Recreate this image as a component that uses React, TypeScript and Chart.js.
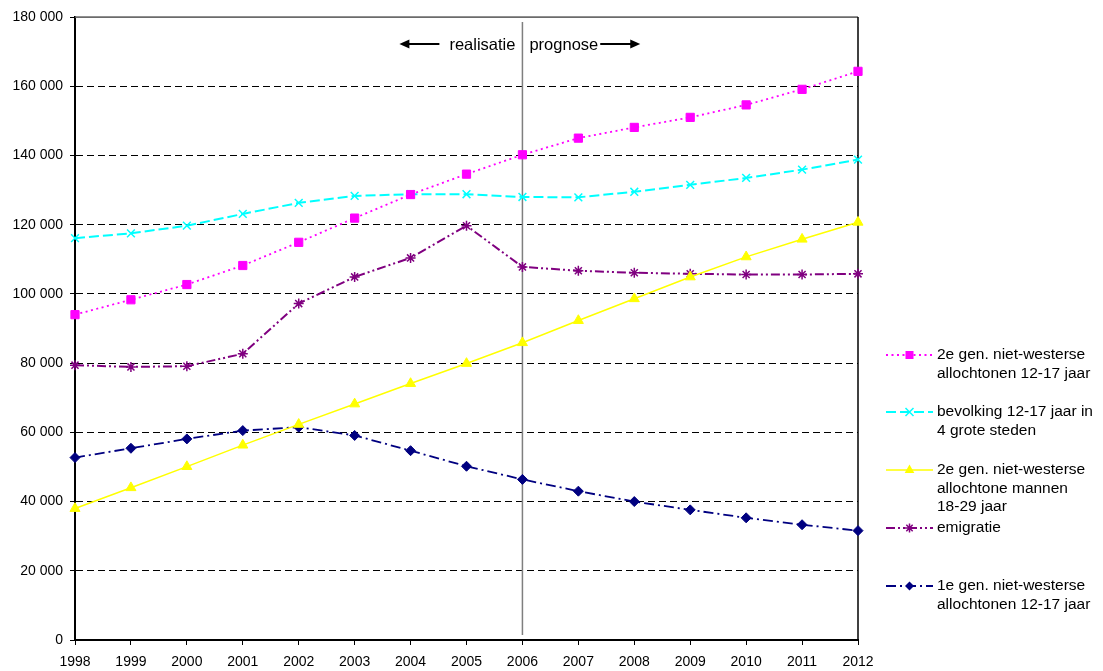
import React, { useEffect, useRef } from "react";
import { Chart, registerables } from "chart.js";

Chart.register(...registerables);

const years = ["1998", "1999", "2000", "2001", "2002", "2003", "2004", "2005", "2006", "2007", "2008", "2009", "2010", "2011", "2012"];

const tweedeGen1217 = [94000, 98300, 102700, 108200, 114900, 121900, 128700, 134600, 140200, 145000, 148100, 151000, 154600, 159100, 164300];
const bevolking1217 = [116100, 117500, 119700, 123100, 126300, 128300, 128800, 128800, 128000, 127900, 129500, 131500, 133500, 135900, 138800];
const tweedeGenMannen = [38000, 44000, 50100, 56300, 62300, 68200, 74100, 79900, 85900, 92300, 98600, 104900, 110700, 115800, 120700];
const emigratie = [79400, 78900, 79100, 82700, 97200, 104900, 110400, 119700, 107800, 106700, 106100, 105800, 105600, 105600, 105800];
const eersteGen1217 = [52700, 55400, 58100, 60500, 61500, 59100, 54700, 50200, 46400, 43000, 40000, 37600, 35300, 33300, 31600];

const seriesLabels = [
  ["2e gen. niet-westerse", "allochtonen 12-17 jaar"],
  ["bevolking 12-17 jaar in", "4 grote steden"],
  ["2e gen. niet-westerse", "allochtone mannen", "18-29 jaar"],
  ["emigratie"],
  ["1e gen. niet-westerse", "allochtonen 12-17 jaar"],
];

const yTicks = [0, 20000, 40000, 60000, 80000, 100000, 120000, 140000, 160000, 180000];
const splitYear = "2006";
const leftText = "realisatie";
const rightText = "prognose";

const FONT = "'Liberation Sans', Arial, Helvetica, sans-serif";

function fmt(v: number): string {
  return String(v).replace(/\B(?=(\d{3})+(?!\d))/g, " ");
}

function drawMarker(ctx: CanvasRenderingContext2D, style: string, x: number, y: number, color: string) {
  ctx.save();
  ctx.setLineDash([]);
  ctx.fillStyle = color;
  ctx.strokeStyle = color;
  ctx.lineWidth = 1.5;
  ctx.beginPath();
  if (style === "rect") {
    ctx.fillRect(x - 4, y - 4, 8, 8);
  } else if (style === "crossRot") {
    ctx.moveTo(x - 4, y - 4); ctx.lineTo(x + 4, y + 4);
    ctx.moveTo(x - 4, y + 4); ctx.lineTo(x + 4, y - 4);
    ctx.stroke();
  } else if (style === "triangle") {
    ctx.moveTo(x, y - 5.5); ctx.lineTo(x + 4.8, y + 3); ctx.lineTo(x - 4.8, y + 3); ctx.closePath();
    ctx.fill();
  } else if (style === "star") {
    const r = 4.5;
    ctx.moveTo(x, y - r); ctx.lineTo(x, y + r);
    ctx.moveTo(x - r, y); ctx.lineTo(x + r, y);
    const d = r * 0.707;
    ctx.moveTo(x - d, y - d); ctx.lineTo(x + d, y + d);
    ctx.moveTo(x - d, y + d); ctx.lineTo(x + d, y - d);
    ctx.stroke();
  } else if (style === "rectRot") {
    ctx.moveTo(x, y - 4.5); ctx.lineTo(x + 4.5, y); ctx.lineTo(x, y + 4.5); ctx.lineTo(x - 4.5, y); ctx.closePath();
    ctx.fill();
  }
  ctx.restore();
}

const extrasPlugin = {
  id: "extras",
  beforeDatasetsDraw(chart: any) {
    const { ctx, chartArea, scales } = chart;
    const xs = scales.x;
    ctx.save();
    ctx.strokeStyle = "#6b6b6b";
    ctx.lineWidth = 1.5;
    ctx.beginPath();
    ctx.moveTo(chartArea.left, chartArea.top);
    ctx.lineTo(chartArea.right, chartArea.top);
    ctx.stroke();
    ctx.strokeStyle = "#000";
    ctx.lineWidth = 1.5;
    ctx.beginPath();
    ctx.moveTo(chartArea.right, chartArea.top);
    ctx.lineTo(chartArea.right, chartArea.bottom);
    ctx.stroke();
    const sx = xs.getPixelForValue(years.indexOf(splitYear));
    ctx.strokeStyle = "#7f7f7f";
    ctx.lineWidth = 1.5;
    ctx.beginPath();
    ctx.moveTo(sx, chartArea.top + 5);
    ctx.lineTo(sx, chartArea.bottom - 5);
    ctx.stroke();
    ctx.restore();
  },
  afterDraw(chart: any) {
    const { ctx, chartArea, scales } = chart;
    const xs = scales.x;
    const sx = xs.getPixelForValue(years.indexOf(splitYear));
    ctx.save();
    ctx.font = `16.5px ${FONT}`;
    ctx.fillStyle = "#000";
    ctx.textBaseline = "middle";
    const ty = chartArea.top + 28;
    ctx.textAlign = "right";
    ctx.fillText(leftText, sx - 7, ty);
    const lw = ctx.measureText(leftText).width;
    ctx.textAlign = "left";
    ctx.fillText(rightText, sx + 7, ty);
    const rw = ctx.measureText(rightText).width;
    const drawArrow = (x1: number, x2: number, y: number) => {
      ctx.strokeStyle = "#000";
      ctx.lineWidth = 2;
      ctx.beginPath();
      const dir = Math.sign(x2 - x1);
      ctx.moveTo(x1, y);
      ctx.lineTo(x2 - dir * 6, y);
      ctx.stroke();
      ctx.beginPath();
      ctx.moveTo(x2, y);
      ctx.lineTo(x2 - dir * 10, y - 4.5);
      ctx.lineTo(x2 - dir * 10, y + 4.5);
      ctx.closePath();
      ctx.fill();
    };
    const ay = ty - 1;
    drawArrow(sx - 7 - lw - 10, sx - 7 - lw - 50, ay);
    drawArrow(sx + 7 + rw + 2, sx + 7 + rw + 42, ay);

    const lx1 = 886, lx2 = 933, mx = 909.5, tx = 937;
    const itemY = [355, 412, 470, 528, 586];
    const lineH = 18.5;
    ctx.font = `15.5px ${FONT}`;
    chart.data.datasets.forEach((ds: any, i: number) => {
      const y = itemY[i];
      ctx.save();
      ctx.strokeStyle = ds.borderColor;
      ctx.lineWidth = ds.borderWidth;
      ctx.setLineDash(ds.borderDash || []);
      ctx.beginPath();
      ctx.moveTo(lx1, y);
      ctx.lineTo(lx2, y);
      ctx.stroke();
      ctx.restore();
      drawMarker(ctx, ds.pointStyle, mx, y, ds.borderColor);
      ctx.fillStyle = "#000";
      ctx.textAlign = "left";
      ctx.textBaseline = "middle";
      seriesLabels[i].forEach((t, j) => ctx.fillText(t, tx, y + j * lineH));
    });
    ctx.restore();
  },
};

export default function App() {
  const ref = useRef<HTMLCanvasElement | null>(null);
  useEffect(() => {
    if (!ref.current) return;
    const chart = new Chart(ref.current, {
      type: "line",
      data: {
        labels: years,
        datasets: [
          {
            label: seriesLabels[0].join(" "),
            data: tweedeGen1217,
            borderColor: "#ff00ff",
            backgroundColor: "#ff00ff",
            borderWidth: 1.8,
            borderDash: [2, 3.5],
            pointStyle: "rect",
            pointRadius: 5.8,
            pointBorderWidth: 1,
            fill: false,
            tension: 0,
          },
          {
            label: seriesLabels[1].join(" "),
            data: bevolking1217,
            borderColor: "#00ffff",
            backgroundColor: "#00ffff",
            borderWidth: 2,
            borderDash: [10, 4],
            pointStyle: "crossRot",
            pointRadius: 5.5,
            pointBorderWidth: 1.5,
            fill: false,
            tension: 0,
          },
          {
            label: seriesLabels[2].join(" "),
            data: tweedeGenMannen,
            borderColor: "#ffff00",
            backgroundColor: "#ffff00",
            borderWidth: 1.5,
            borderDash: [],
            pointStyle: "triangle",
            pointRadius: 5.8,
            pointBorderWidth: 1,
            fill: false,
            tension: 0,
          },
          {
            label: seriesLabels[3].join(" "),
            data: emigratie,
            borderColor: "#800080",
            backgroundColor: "#800080",
            borderWidth: 2,
            borderDash: [9, 3, 2, 3, 2, 3],
            pointStyle: "star",
            pointRadius: 5,
            pointBorderWidth: 1.5,
            fill: false,
            tension: 0,
          },
          {
            label: seriesLabels[4].join(" "),
            data: eersteGen1217,
            borderColor: "#000080",
            backgroundColor: "#000080",
            borderWidth: 1.8,
            borderDash: [10, 4, 2, 4],
            pointStyle: "rectRot",
            pointRadius: 5,
            pointBorderWidth: 1,
            fill: false,
            tension: 0,
          },
        ],
      },
      options: {
        animation: false,
        responsive: false,
        maintainAspectRatio: false,
        layout: { padding: { top: 17, right: 245, bottom: 0, left: 0 } },
        plugins: {
          legend: { display: false },
          tooltip: { enabled: false },
        },
        scales: {
          x: {
            type: "category",
            offset: false,
            grid: {
              drawOnChartArea: false,
              drawTicks: true,
              tickLength: 5,
              tickColor: "#000",
              tickWidth: 1,
            },
            border: { color: "#000", width: 2 },
            ticks: {
              color: "#000",
              font: { family: FONT, size: 14 },
              padding: 9,
              maxRotation: 0,
              autoSkip: false,
            },
            afterFit: (s: any) => {
              s.height = 31;
            },
          },
          y: {
            min: 0,
            max: 180000,
            afterBuildTicks: (s: any) => {
              s.ticks = yTicks.map((v) => ({ value: v }));
            },
            grid: {
              color: (c: any) => (c.tick && c.tick.value === 180000 ? "#6b6b6b" : "#000"),
              lineWidth: 1,
              drawTicks: true,
              tickLength: 5,
              tickColor: "#000",
              tickWidth: 1,
            },
            border: {
              color: "#000",
              width: 2,
              dash: (c: any) => (c.tick && c.tick.value === 180000 ? [] : [7, 4]),
            },
            ticks: {
              color: "#000",
              font: { family: FONT, size: 14 },
              padding: 7,
              callback: (v: any) => fmt(Number(v)),
            },
            afterFit: (s: any) => {
              s.width = 75;
            },
          },
        },
      },
      plugins: [extrasPlugin],
    });
    return () => chart.destroy();
  }, []);
  return (
    <div style={{ position: "fixed", left: 0, top: 0, width: 1103, height: 671, background: "#fff" }}>
      <canvas ref={ref} width={1103} height={671} style={{ width: 1103, height: 671, display: "block" }} />
    </div>
  );
}
